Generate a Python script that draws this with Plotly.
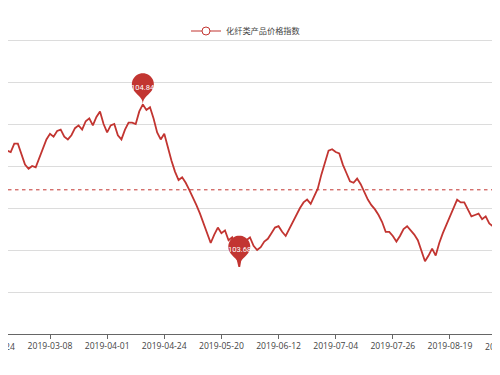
import math
import pandas as pd
import plotly.graph_objects as go

# ---------------- data ----------------
SERIES_NAME = "化纤类产品价格指数"

VALUES = [
    104.36, 104.39, 104.42, 104.48, 104.51, 104.50, 104.56, 104.56,
    104.49, 104.41, 104.38, 104.40, 104.39, 104.46, 104.52, 104.59,
    104.63, 104.61, 104.65, 104.66, 104.61, 104.59, 104.62, 104.67,
    104.69, 104.66, 104.72, 104.74, 104.69, 104.75, 104.79, 104.70,
    104.64, 104.69, 104.70, 104.62, 104.59, 104.66, 104.71, 104.71,
    104.70, 104.79, 104.84, 104.80, 104.82, 104.74, 104.64, 104.59,
    104.63, 104.53, 104.44, 104.36, 104.30, 104.32, 104.28, 104.23,
    104.18, 104.12, 104.06, 103.99, 103.93, 103.85, 103.91, 103.96,
    103.92, 103.94, 103.87, 103.89, 103.79, 103.68, 103.83, 103.87,
    103.89, 103.83, 103.80, 103.82, 103.86, 103.88, 103.92, 103.96,
    103.97, 103.93, 103.90, 103.95, 104.01, 104.06, 104.10, 104.14,
    104.16, 104.13, 104.18, 104.24, 104.34, 104.43, 104.51, 104.52,
    104.50, 104.49, 104.41, 104.35, 104.29, 104.28, 104.31, 104.27,
    104.21, 104.16, 104.12, 104.09, 104.05, 104.00, 103.93, 103.93,
    103.90, 103.86, 103.90, 103.95, 103.97, 103.94, 103.91, 103.87,
    103.80, 103.72, 103.76, 103.81, 103.76, 103.85, 103.92, 103.98,
    104.05, 104.11, 104.16, 104.14, 104.14, 104.09, 104.04, 104.05,
    104.06, 104.02, 104.04, 103.99, 103.97, 104.02, 104.08, 104.12,
    104.16,
]
AVG_VALUE = 104.23          # level of the dashed average line
Y_MIN, Y_MAX, Y_STEP = 103.2, 105.3, 0.3
LABEL_INTERVAL = 16

START_DAY, END_DAY = "2019-01-24", "2019-09-10"
NO_DATA_DAYS = [
    "2019-01-25", "2019-01-28", "2019-01-29", "2019-01-30", "2019-01-31",
    "2019-02-01", "2019-02-04", "2019-02-05", "2019-02-06", "2019-02-07",
    "2019-02-08", "2019-02-11", "2019-02-12", "2019-02-13", "2019-02-14",
    "2019-04-05", "2019-05-01", "2019-05-02", "2019-05-03", "2019-06-07",
]
EXTRA_DAYS = ["2019-04-28"]

days = pd.bdate_range(START_DAY, END_DAY)
days = days[~days.isin(pd.to_datetime(NO_DATA_DAYS))].union(pd.to_datetime(EXTRA_DAYS))
DATES = [d.strftime("%Y-%m-%d") for d in days]
assert len(DATES) == len(VALUES), (len(DATES), len(VALUES))

# ---------------- geometry ----------------
# the page body has an 8px default margin, so the figure is placed at (8, 8)
PAGE_OFF = 8
W, H = 500 - PAGE_OFF, 375 - PAGE_OFF
M_T, M_B = 39 - PAGE_OFF, 41
Y_PAD = 0.0072              # ~1px headroom so the top grid line is kept
PX_PER_CAT = 57.14 / LABEL_INTERVAL
FIRST_LABEL_PX = 50 - PAGE_OFF      # x of the 2nd label (index 16) inside the figure
X0 = LABEL_INTERVAL - FIRST_LABEL_PX / PX_PER_CAT
X_RANGE = [X0, X0 + W / PX_PER_CAT]

RED = "#c23531"
TXT = "#444"
FONT = "Open Sans, Noto Sans CJK SC, sans-serif"
CJK = "Noto Sans CJK SC, sans-serif"
FS = 8.6
PLOT_H = H - M_T - M_B

fig = go.Figure()
fig.add_trace(go.Scatter(
    x=DATES, y=VALUES, mode="lines", name=SERIES_NAME, showlegend=False,
    line=dict(color=RED, width=1.8),
))
# legend entry (line + empty circle icon)
fig.add_trace(go.Scatter(
    x=[None], y=[None], mode="lines+markers", name=SERIES_NAME,
    line=dict(color=RED, width=1.2),
    marker=dict(symbol="circle", size=8, color="white", line=dict(color=RED, width=1)),
))

tick_idx = list(range(0, len(DATES), LABEL_INTERVAL))
tickvals = [DATES[i] for i in tick_idx]

shapes = []
annotations = []

# average line
shapes.append(dict(type="line", xref="paper", x0=0, x1=1, yref="y",
                   y0=AVG_VALUE, y1=AVG_VALUE,
                   line=dict(color=RED, width=1, dash="3.5px,3.5px")))

# pin markers for max / min
def pin_path(w=22.0, h=36.0, n=28):
    r = w / 2
    dy = r * r / (h - r)
    cy = h - r - dy
    a = math.asin(dy / r)
    dx = math.cos(a) * r
    tx, ty = math.sin(a), math.cos(a)
    c1, c2 = r * 0.6, r * 0.7
    pts = []
    for j in range(n + 1):
        th = (math.pi + a) - j * (math.pi + 2 * a) / n
        pts.append((r * math.cos(th), cy + r * math.sin(th)))
    p = "M {:.2f},{:.2f} ".format(*pts[0])
    p += " ".join("L {:.2f},{:.2f}".format(*q) for q in pts[1:])
    ty0 = cy - dy
    p += " C {:.2f},{:.2f} {:.2f},{:.2f} 0,0".format(dx - tx * c1, ty0 - ty * c1, 0, c2)
    p += " C {:.2f},{:.2f} {:.2f},{:.2f} {:.2f},{:.2f} Z".format(
        0, c2, -dx + tx * c1, ty0 - ty * c1, -dx, ty0)
    return p

PIN = pin_path()
for idx in (VALUES.index(max(VALUES)), VALUES.index(min(VALUES))):
    shapes.append(dict(type="path", xref="x", yref="y",
                       xsizemode="pixel", ysizemode="pixel",
                       xanchor=DATES[idx], yanchor=VALUES[idx],
                       path=PIN, fillcolor=RED, line=dict(width=0), layer="above"))
    annotations.append(dict(x=DATES[idx], y=VALUES[idx], xref="x", yref="y",
                            text=f"{VALUES[idx]:.2f}", showarrow=False, yshift=17,
                            xanchor="center", yanchor="middle",
                            font=dict(color="white", size=7.6, family="Roboto, sans-serif")))

# partially visible edge labels (categories outside the visible axis range)
span = X_RANGE[1] - X_RANGE[0]
for i in tick_idx:
    if i < X_RANGE[0] or i > X_RANGE[1]:
        annotations.append(dict(x=(i - X_RANGE[0]) / span, xref="paper",
                                y=0, yref="paper", xanchor="center", yanchor="top",
                                yshift=-5, text=DATES[i], showarrow=False,
                                font=dict(color=TXT, size=FS, family=FONT)))

LEGEND_LEFT_PX = 186 - PAGE_OFF
LEGEND_MID_PX = 31 - PAGE_OFF

fig.update_layout(
    template="none",
    width=W, height=H,
    margin=dict(l=0, r=0, t=M_T, b=M_B, pad=0, autoexpand=False),
    paper_bgcolor="white", plot_bgcolor="white",
    font=dict(family=FONT, size=FS, color=TXT),
    showlegend=True,
    legend=dict(orientation="h", x=LEGEND_LEFT_PX / W, xanchor="left",
                y=1 + (M_T - LEGEND_MID_PX) / PLOT_H, yanchor="middle",
                bgcolor="rgba(0,0,0,0)",
                font=dict(family=CJK, size=8.2, color=TXT)),
    xaxis=dict(type="category", range=X_RANGE, tickmode="array",
               tickvals=tickvals, ticktext=tickvals, automargin=False,
               showgrid=False, zeroline=False, showline=True,
               linecolor="#666", linewidth=1, ticks="outside", ticklen=4,
               tickcolor="#666", tickfont=dict(size=FS, color=TXT, family=FONT)),
    yaxis=dict(range=[Y_MIN, Y_MAX + Y_PAD], tick0=Y_MIN, dtick=Y_STEP,
               showticklabels=False, showgrid=True, gridcolor="#dcdcdc",
               gridwidth=1, zeroline=False, showline=False, ticks="",
               automargin=False),
    shapes=shapes, annotations=annotations,
    hovermode="x",
)

fig.write_html("out.html")
